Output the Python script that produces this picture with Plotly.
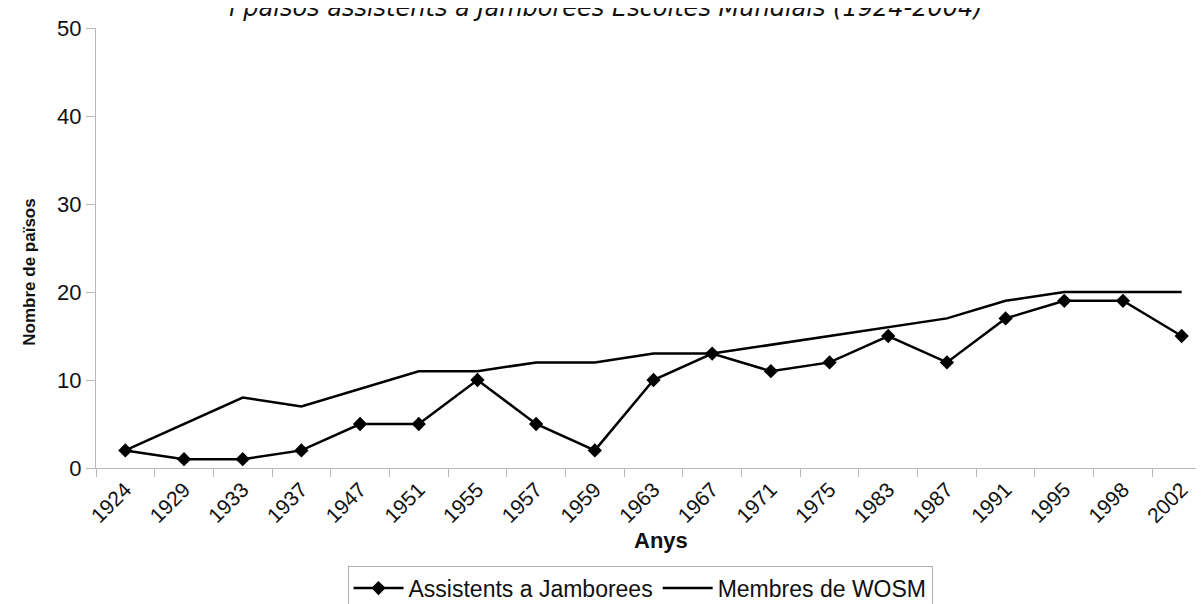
import plotly.graph_objects as go

years = ["1924", "1929", "1933", "1937", "1947", "1951", "1955", "1957", "1959", "1963",
         "1967", "1971", "1975", "1983", "1987", "1991", "1995", "1998", "2002"]
assistents = [2, 1, 1, 2, 5, 5, 10, 5, 2, 10, 13, 11, 12, 15, 12, 17, 19, 19, 15]
membres_wosm = [2, 5, 8, 7, 9, 11, 11, 12, 12, 13, 13, 14, 15, 16, 17, 19, 20, 20, 20]

title_text = "i països assistents a Jamborees Escoltes Mundials (1924-2004)"

W, H = 1204, 604
L, R, T, B = 88, 1, 20, 129
pw, ph = W - L - R, H - T - B


def px_x(x):
    return (x - L) / pw


def px_y(y):
    return (H - B - y) / ph


font_family = "Liberation Sans, Arial, sans-serif"

fig = go.Figure()
fig.add_trace(go.Scatter(
    x=years, y=assistents, name="Assistents a Jamborees",
    mode="lines+markers",
    line=dict(color="black", width=2.5),
    marker=dict(symbol="diamond", size=11, color="black"),
))
fig.add_trace(go.Scatter(
    x=years, y=membres_wosm, name="Membres de WOSM",
    mode="lines",
    line=dict(color="black", width=2.5),
))

fig.update_layout(
    width=W, height=H,
    margin=dict(l=L, r=R, t=T, b=B, pad=0),
    paper_bgcolor="white", plot_bgcolor="white",
    font=dict(family=font_family, size=20, color="#111111"),
    showlegend=True,
    legend=dict(
        orientation="h",
        xanchor="center", x=px_x(632),
        yanchor="top", y=px_y(576),
        bordercolor="#b0b0b0", borderwidth=1,
        font=dict(size=23, family=font_family, color="#111111"),
        bgcolor="white",
        itemwidth=50,
    ),
    xaxis=dict(
        type="category",
        tickson="boundaries",
        range=[-0.5, len(years) - 0.5],
        showline=True, linecolor="#b8b8b8", linewidth=1,
        ticks="outside", ticklen=8, tickcolor="#b8b8b8",
        tickangle=-45,
        tickfont=dict(size=21, family=font_family, color="#111111"),
        showgrid=False, zeroline=False,
    ),
    yaxis=dict(
        range=[0, 50], dtick=10,
        showline=True, linecolor="#b8b8b8", linewidth=1,
        ticks="outside", ticklen=9, tickcolor="#b8b8b8",
        tickfont=dict(size=22, family=font_family, color="#111111"),
        showgrid=False, zeroline=False,
    ),
    annotations=[
        dict(text="<i>" + title_text + "</i>",
             xref="paper", yref="paper", x=px_x(598), y=px_y(-1),
             xanchor="center", yanchor="middle", showarrow=False,
             font=dict(family="DejaVu Sans, Verdana, sans-serif", size=24, color="#111111")),
        dict(text="<b>Anys</b>",
             xref="paper", yref="paper", x=px_x(653), y=px_y(550),
             xanchor="center", yanchor="middle", showarrow=False,
             font=dict(family=font_family, size=22, color="#111111")),
        dict(text="<b>Nombre de països</b>",
             xref="paper", yref="paper", x=px_x(22), y=px_y(273),
             xanchor="center", yanchor="middle", showarrow=False, textangle=-90,
             font=dict(family=font_family, size=17, color="#111111")),
    ],
)

fig.write_html("out.html")
